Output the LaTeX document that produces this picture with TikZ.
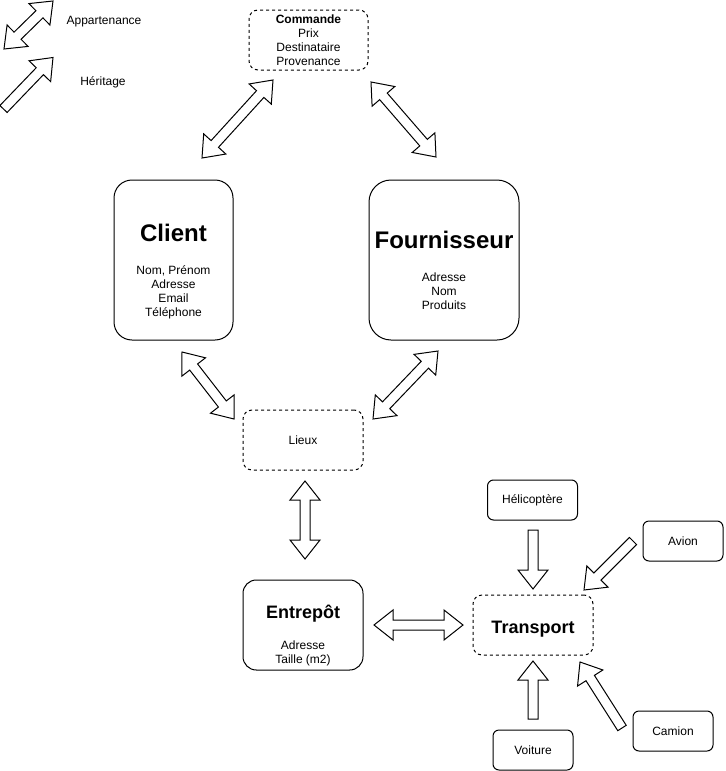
\documentclass[tikz,border=0pt]{standalone}
\usepackage{fontspec}
\setmainfont{Liberation Sans}
\usetikzlibrary{calc}

% geometry of the hollow block arrows
\newcommand\arrshaft{3.75pt}   % half width of the shaft
\newcommand\arrhead{11.25pt}   % half width of a head
\newcommand\arrheadlen{14.25pt}% length of a head

% hollow arrow with a head at both ends
\newcommand\twowayarrow[2]{%
  \draw[blockarrow] (#1)
    -- ($(#1)!\arrheadlen!(#2)!\arrhead!90:(#2)$)
    -- ($(#1)!\arrheadlen!(#2)!\arrshaft!90:(#2)$)
    -- ($(#2)!\arrheadlen!(#1)!\arrshaft!-90:(#1)$)
    -- ($(#2)!\arrheadlen!(#1)!\arrhead!-90:(#1)$)
    -- (#2)
    -- ($(#2)!\arrheadlen!(#1)!\arrhead!90:(#1)$)
    -- ($(#2)!\arrheadlen!(#1)!\arrshaft!90:(#1)$)
    -- ($(#1)!\arrheadlen!(#2)!\arrshaft!-90:(#2)$)
    -- ($(#1)!\arrheadlen!(#2)!\arrhead!-90:(#2)$)
    -- cycle;}

% hollow arrow from a tail (#1) to a tip (#2)
\newcommand\onewayarrow[2]{%
  \draw[blockarrow] ($(#1)!\arrshaft!90:(#2)$)
    -- ($(#2)!\arrheadlen!(#1)!\arrshaft!-90:(#1)$)
    -- ($(#2)!\arrheadlen!(#1)!\arrhead!-90:(#1)$)
    -- (#2)
    -- ($(#2)!\arrheadlen!(#1)!\arrhead!90:(#1)$)
    -- ($(#2)!\arrheadlen!(#1)!\arrshaft!90:(#1)$)
    -- ($(#1)!\arrshaft!-90:(#2)$)
    -- cycle;}

\newcommand\txtsize{\fontsize{9}{10.5}\selectfont}
\newcommand\bigtitle{\fontsize{18}{21}\selectfont\bfseries}
\newcommand\midtitle{\fontsize{13.5}{16}\selectfont\bfseries}

\begin{document}
\begin{tikzpicture}[x=0.75pt, y=-0.75pt,
  box/.style={draw, line width=0.75pt, rounded corners=#1, fill=white, inner sep=0pt},
  dashedbox/.style={box=#1, dash pattern=on 2.25pt off 2.25pt},
  blockarrow/.style={draw, line width=0.75pt, fill=white, line join=miter},
  label/.style={font=\txtsize, align=center, inner sep=0pt}]

\useasboundingbox (0,0) rectangle (725,771);

% legend
\coordinate (lgA1) at (4,49);
\coordinate (lgA2) at (53,1);
\coordinate (lgB1) at (3.5,109);
\coordinate (lgB2) at (53,57.5);
\twowayarrow{lgA1}{lgA2}
\onewayarrow{lgB1}{lgB2}
\node[label] (lg-app) at (104,22) {Appartenance};
\node[label] (lg-her) at (103,82) {Héritage};

% entities
\node[dashedbox=6.75pt, minimum width=89.25pt, minimum height=45pt, label]
  (commande) at (308.5,40) {\textbf{Commande}\\Prix\\Destinataire\\Provenance};

\node[box=13.5pt, minimum width=89.25pt, minimum height=120pt] (client) at (173.5,260) {};
\node[anchor=base, font=\bigtitle] (client-title) at (173.5,241.5) {Client};
\node[label] (client-attrs) at (173.5,292) {Nom, Prénom\\Adresse\\Email\\Téléphone};

\node[box=16.5pt, minimum width=112.5pt, minimum height=120pt] (fournisseur) at (444,260) {};
\node[anchor=base, font=\bigtitle] (fourn-title) at (444,248) {Fournisseur};
\node[label] (fourn-attrs) at (444,291) {Adresse\\Nom\\Produits};

\node[dashedbox=6.75pt, minimum width=90pt, minimum height=45pt, label] (lieux) at (303,440) {Lieux};

\node[box=10pt, minimum width=90pt, minimum height=67.5pt] (entrepot) at (303,625) {};
\node[anchor=base, font=\midtitle] (entr-title) at (303,618) {Entrepôt};
\node[label] (entr-attrs) at (303,653) {Adresse\\Taille (m2)};

\node[dashedbox=6.75pt, minimum width=90pt, minimum height=45pt] (transport) at (533,625) {};
\node[anchor=base, font=\midtitle] (transp-title) at (533,633) {Transport};

\node[box=4.5pt, minimum width=67.5pt, minimum height=30pt, label] (helico) at (532.5,500) {Hélicoptère};
\node[box=4.5pt, minimum width=60pt, minimum height=30pt, label] (avion) at (683,541) {Avion};
\node[box=4.5pt, minimum width=60pt, minimum height=30pt, label] (camion) at (673,731) {Camion};
\node[box=4.5pt, minimum width=60pt, minimum height=30pt, label] (voiture) at (533,750) {Voiture};

% links between the entities
\coordinate (cmd-cli-a) at (273,80);
\coordinate (cmd-cli-b) at (202,158);
\coordinate (cmd-four-a) at (371,82);
\coordinate (cmd-four-b) at (436,157);
\coordinate (cli-lieux-a) at (182,352);
\coordinate (cli-lieux-b) at (234,419);
\coordinate (four-lieux-a) at (438,351);
\coordinate (four-lieux-b) at (373,419);
\coordinate (lieux-entr-a) at (305,481);
\coordinate (lieux-entr-b) at (305,559);
\coordinate (entr-tr-a) at (374,625);
\coordinate (entr-tr-b) at (463,625);
\twowayarrow{cmd-cli-a}{cmd-cli-b}
\twowayarrow{cmd-four-a}{cmd-four-b}
\twowayarrow{cli-lieux-a}{cli-lieux-b}
\twowayarrow{four-lieux-a}{four-lieux-b}
\twowayarrow{lieux-entr-a}{lieux-entr-b}
\twowayarrow{entr-tr-a}{entr-tr-b}

% kinds of transport
\coordinate (helico-tail) at (533,530);
\coordinate (helico-tip) at (533,589);
\coordinate (avion-tail) at (633,541);
\coordinate (avion-tip) at (584,590);
\coordinate (voiture-tail) at (533,719);
\coordinate (voiture-tip) at (533,661);
\coordinate (camion-tail) at (622,728);
\coordinate (camion-tip) at (580,662);
\onewayarrow{helico-tail}{helico-tip}
\onewayarrow{avion-tail}{avion-tip}
\onewayarrow{voiture-tail}{voiture-tip}
\onewayarrow{camion-tail}{camion-tip}

\end{tikzpicture}
\end{document}
